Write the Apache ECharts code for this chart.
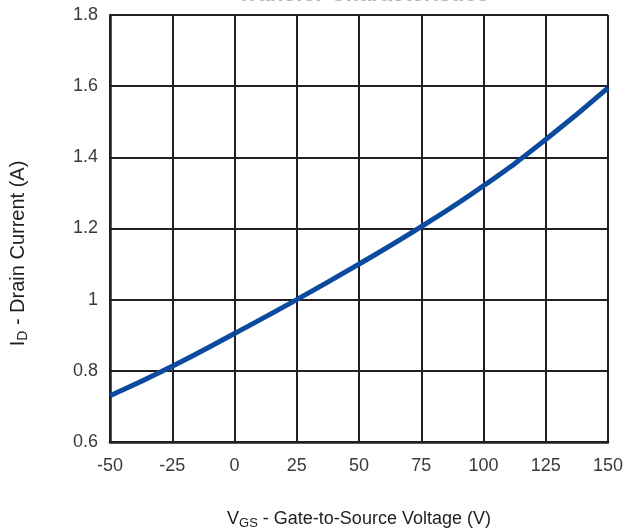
<!DOCTYPE html>
<html>
<head>
<meta charset="utf-8">
<script src="https://cdn.jsdelivr.net/npm/echarts@6/dist/echarts.min.js"></script>
<style>
  html, body { margin: 0; padding: 0; background: #fff; }
  #chart { width: 630px; height: 528px; }
</style>
</head>
<body>
<div id="chart"></div>
<script>
// Gate-to-source voltage (V) and drain current (A)
const vgs = [-50, -25, 0, 25, 50, 75, 100, 125, 150];
const drainCurrent = [0.73, 0.813, 0.905, 1.0, 1.1, 1.205, 1.32, 1.45, 1.595];
const xTicks = [-50, -25, 0, 25, 50, 75, 100, 125, 150];
const yTicks = [0.6, 0.8, 1, 1.2, 1.4, 1.6, 1.8];

const gridColor = '#231f20';
const font = 'Liberation Sans, Arial, Helvetica, sans-serif';

const chart = echarts.init(document.getElementById('chart'), null, { renderer: 'canvas' });
chart.setOption({
  animation: false,
  backgroundColor: '#ffffff',
  title: {
    text: 'Transfer Characteristics',
    left: 232,
    top: -21,
    textStyle: { color: '#b4b4b4', fontSize: 22, fontWeight: 'bold', fontFamily: font }
  },
  grid: { left: 110, right: 22, top: 15, bottom: 86, show: false, outerBoundsMode: 'none' },
  xAxis: {
    type: 'value',
    min: xTicks[0],
    max: xTicks[xTicks.length - 1],
    interval: 25,
    axisLine: { show: true, onZero: false, lineStyle: { color: gridColor, width: 2.5 } },
    axisTick: { show: false },
    splitLine: { show: true, lineStyle: { color: gridColor, width: 2 } },
    axisLabel: { color: '#3a3a3a', fontSize: 18, fontFamily: font, margin: 15 },
    name: '{v|V}{s|GS}{v| - Gate-to-Source Voltage (V)}',
    nameLocation: 'middle',
    nameGap: 66,
    nameTextStyle: {
      rich: {
        v: { fontSize: 18, color: '#1e1e1e', fontFamily: font },
        s: { fontSize: 13, color: '#1e1e1e', fontFamily: font, padding: [9, 0, 0, 0] }
      }
    }
  },
  yAxis: {
    type: 'value',
    min: yTicks[0],
    max: yTicks[yTicks.length - 1],
    interval: 0.2,
    axisLine: { show: true, onZero: false, lineStyle: { color: gridColor, width: 2.5 } },
    axisTick: { show: false },
    splitLine: { show: true, lineStyle: { color: gridColor, width: 2 } },
    axisLabel: {
      color: '#3a3a3a', fontSize: 18, fontFamily: font, margin: 12,
      formatter: v => String(Math.round(v * 10) / 10)
    },
    name: '{v|I}{s|D}{v| - Drain Current (A)}',
    nameLocation: 'middle',
    nameRotate: 90,
    nameGap: 80,
    nameTextStyle: {
      padding: [0, 50, 0, 0],
      rich: {
        v: { fontSize: 20, color: '#1e1e1e', fontFamily: font },
        s: { fontSize: 14, color: '#1e1e1e', fontFamily: font, padding: [10, 0, 0, 0] }
      }
    }
  },
  series: [{
    type: 'line',
    data: vgs.map((v, i) => [v, drainCurrent[i]]),
    smooth: true,
    showSymbol: false,
    lineStyle: { color: '#0b4a9c', width: 5 },
    z: 5
  }]
});
</script>
</body>
</html>
